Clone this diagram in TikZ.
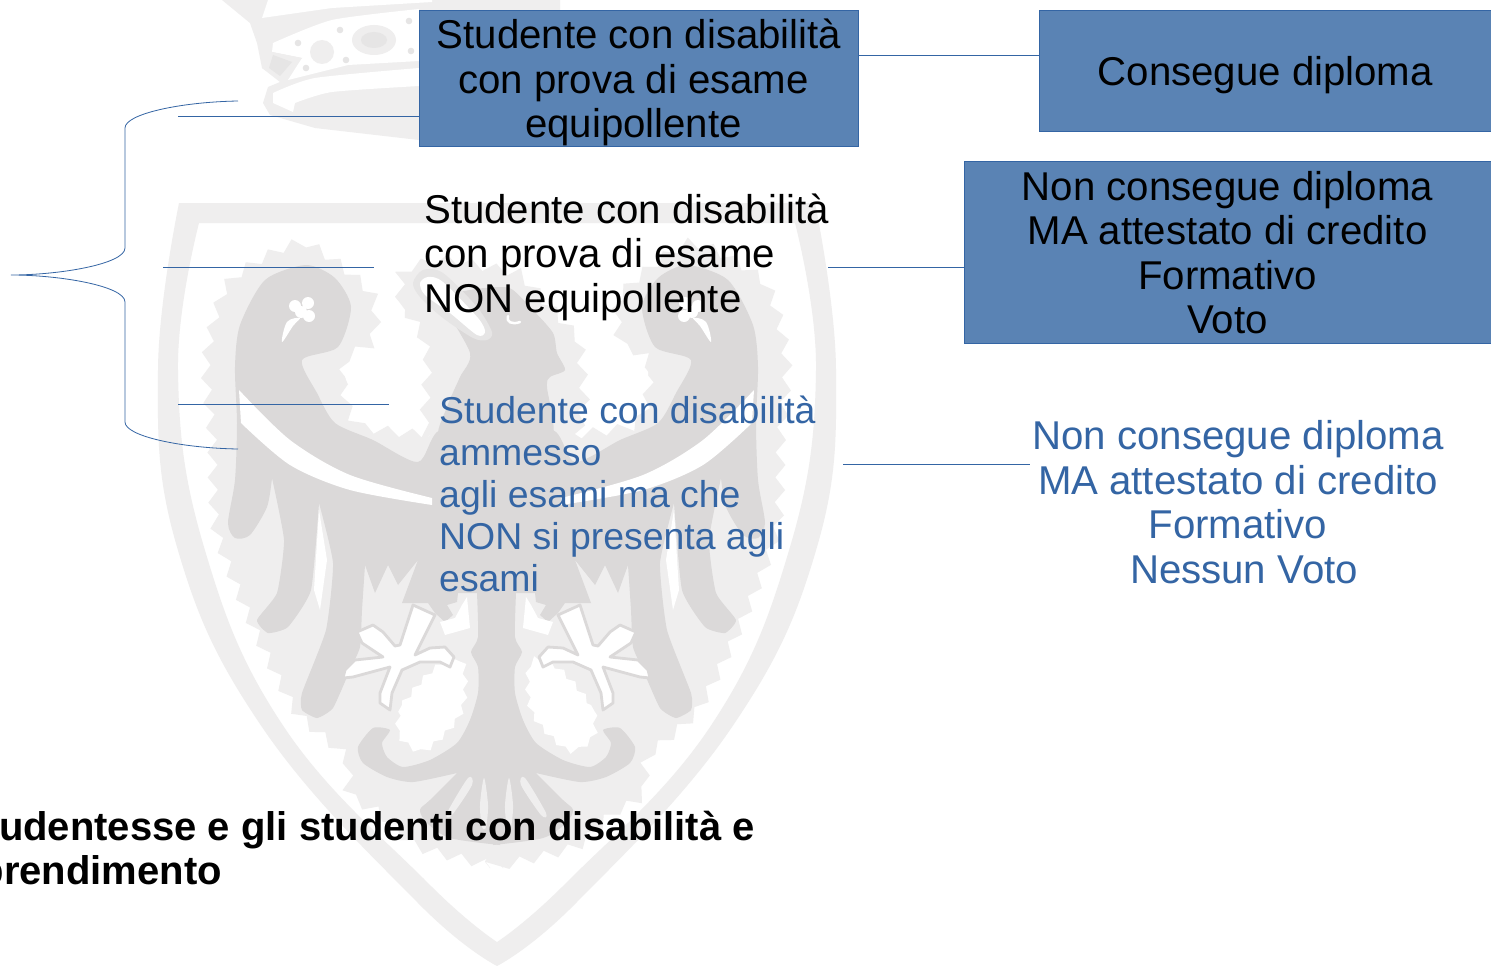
\documentclass[tikz,border=0pt]{standalone}
\usepackage{fontspec}
\setmainfont{Liberation Sans}
\usetikzlibrary{decorations.pathmorphing}
\definecolor{wmlight}{HTML}{EFEEEE}
\definecolor{wmdark}{HTML}{DBD9D9}
\definecolor{wmmid}{HTML}{E6E5E5}
\definecolor{boxfill}{HTML}{5A83B4}
\definecolor{linkblue}{HTML}{3465A4}
\tikzset{
  bigtext/.style={inner sep=0pt,font=\fontsize{40.2}{44.5}\selectfont},
  bluetext/.style={inner sep=0pt,text=linkblue,font=\fontsize{37.4}{42}\selectfont},
  boldtext/.style={inner sep=0pt,font=\fontsize{40}{44}\selectfont\bfseries,anchor=base east},
  bluebox/.style={draw=linkblue,line width=0.8pt,fill=boxfill,inner sep=0pt,align=center,bigtext},
  link/.style={draw=linkblue,line width=0.8pt},
  serrated/.style={decorate,decoration={zigzag,segment length=25pt,amplitude=5pt}}
}
\newcommand{\halfhalo}{%
  \fill[wmlight,serrated] plot[smooth,tension=0.4] coordinates {(503,868) (418,847) (382,815) (350,795) (345,757) (295,710) (250,620) (216,530) (212,440) (206,360) (228,283) (302,243) (371,293) (373,340) (345,362) (360,425) (503,440)} -- cycle;
  \fill[white] plot[smooth cycle,tension=0.5] coordinates {(345,372) (395,352) (422,368) (428,405) (415,425) (375,420)};
}
\newcommand{\halfbody}{%
  % dark wing, body and tail
  \fill[wmdark] plot[smooth,tension=0.45] coordinates {(500,430) (440,430) (418,462) (373,440) (335,423) (317,393) (302,360) (338,347) (351,307) (335,278) (306,265) (265,280) (240,325) (235,367) (237,423) (235,480) (228,523) (235,538) (250,535) (267,507) (272,478)} -- plot[smooth,tension=0.3] coordinates {(272,478) (284,540) (277,593) (257,620) (268,633) (288,627) (311,590) (319,503)} -- plot[smooth,tension=0.3] coordinates {(319,503) (333,563) (326,630) (302,693) (302,710) (317,718) (333,708) (350,670) (360,647) (362,610) (365,565)} -- (375,593) -- (388,565) -- (398,585) -- (418,560) -- (402,603) -- (428,603) -- (435,613) -- (445,622) -- (453,615) -- (447,605) -- (457,602) -- (458,593) -- (477,593) -- plot[smooth,tension=0.4] coordinates {(477,593) (478,637) (471,652) (478,667) (478,693) (470,720) (457,743) (430,760) (403,767) (387,757) (382,743) (390,730) (373,728) (358,747) (363,763) (387,777) (413,782) (457,773)} -- plot[smooth,tension=0.5] coordinates {(457,773) (430,800) (420,810) (427,823) (450,838) (500,845)} -- cycle;
  % white binding across the wing
  \fill[white] plot[smooth,tension=0.5] coordinates {(239,390) (290,440) (350,475) (432,498)} -- plot[smooth,tension=0.5] coordinates {(432,505) (350,490) (290,465) (241,423)} -- cycle;
  % white patches beside column
  \fill[white] (440,622) -- (455,618) -- (462,605) -- (467,597) -- (470,628) -- (445,635) -- cycle;
  \fill[white,decorate,decoration={zigzag,segment length=16pt,amplitude=2.5pt}] plot[smooth cycle,tension=0.6] coordinates {(398,720) (402,705) (435,668) (462,662) (462,710) (433,745) (417,750) (400,737)};
  % foot
  \draw[wmdark,fill=white,line width=2.8pt,line join=round] (413,605) -- (400,645) -- (395,646) -- (383,632) -- (373,625) -- (357,632) -- (362,643) -- (383,657) -- (355,660) -- (345,670) -- (343,678) -- (353,677) -- (390,667) -- (380,693) -- (380,703) -- (390,710) -- (392,693) -- (402,670) -- (420,662) -- (440,662) -- (450,667) -- (454,657) -- (445,647) -- (430,648) -- (415,655) -- (435,615) -- cycle;
  % tail slits
  \fill[wmlight] plot[smooth cycle,tension=0.5] coordinates {(468,778) (447,813) (452,815) (472,785)};
  \fill[wmlight] plot[smooth cycle,tension=0.5] coordinates {(484,778) (480,805) (482,827) (486,827) (488,805)};
  % feather slit
  \fill[white] (319,510) -- (327,560) -- (320,610) -- (314,590) -- cycle;
  % clover and tongue of the wing head
  \fill[white] (295,306) circle (6pt) (308,303) circle (6pt) (309,316) circle (6pt) (301,312) circle (6pt);
  \fill[white] plot[smooth cycle,tension=0.6] coordinates {(300,318) (287,322) (282,342) (293,326)};
}
\begin{document}
\begin{tikzpicture}[x=1pt,y=-1pt]
\useasboundingbox (0,0) rectangle (1491,966);
\fill[white] (0,0) rectangle (1491,966);
% shield
\fill[wmlight,even odd rule]
  plot[smooth,tension=0.7] coordinates {(179,203) (158,370) (177,547) (262,727) (418,903) (497,966)} -- plot[smooth,tension=0.7] coordinates {(497,966) (576,903) (732,727) (817,547) (836,370) (815,203)} -- cycle
  plot[smooth,tension=0.7] coordinates {(199,223) (178,370) (204,547) (284,727) (427,882) (497,942)} -- plot[smooth,tension=0.7] coordinates {(497,942) (567,882) (710,727) (790,547) (816,370) (795,223)} -- cycle;
% crown
\fill[wmlight] (222,0) -- (250,23) -- (257,43) -- (262,68) -- (280,82) -- (268,87) -- (263,103) -- (270,115) -- (315,128) -- (419,140) -- (560,140) -- (560,0) -- cycle;
\fill[white] (268,0) -- (262,18) -- (332,8) -- (432,2) -- (432,0) -- cycle;
\fill[white] plot[smooth,tension=0.4] coordinates {(273,43) (332,20) (419,9)} -- (419,61) -- (348,65) -- (288,80) -- (302,58) -- (272,52) -- cycle;
\fill[white] plot[smooth,tension=0.4] coordinates {(273,93) (315,78) (419,68)} -- (419,86) -- plot[smooth,tension=0.4] coordinates {(419,86) (332,92) (295,103)} -- (293,112) -- (273,103) -- cycle;
\fill[wmlight] (272,52) -- (302,58) -- (283,80) -- (262,68) -- cycle;
\fill[wmmid] (273,55) -- (292,62) -- (280,76) -- (269,68) -- cycle;
\fill[wmlight] (322,52) circle (12pt);
\fill[wmlight] (374,40) ellipse (22pt and 15pt);
\fill[wmmid] (374,40) ellipse (13pt and 8pt);
\foreach \p in {(298,43),(340,30),(346,60),(306,68),(409,21),(411,51)} \fill[wmmid] \p circle (3.3pt);
% eagle
\halfhalo
\begin{scope}[xshift=993pt,xscale=-1]
\halfhalo
\end{scope}
\fill[wmlight,serrated] (400,303) -- (400,270) -- (440,258) -- (520,273) -- (547,303) -- (580,340) -- (585,400) -- (577,440) -- (423,440) -- (428,357) -- (420,330) -- cycle;
\halfbody
\begin{scope}[xshift=993pt,xscale=-1]
\halfbody
\end{scope}
% head
\fill[wmdark] plot[smooth cycle,tension=0.45] coordinates {(443,300) (470,290) (500,287) (513,290) (533,310) (553,333) (557,353) (565,370) (550,377) (547,387) (552,440) (500,460) (440,440) (447,407) (460,377) (470,353)};
\fill[wmmid] plot[smooth cycle,tension=0.5] coordinates {(413,283) (423,270) (443,273) (477,307) (492,332) (487,340) (473,338) (443,318) (420,297)};
\fill[white] plot[smooth cycle,tension=0.5] coordinates {(420,283) (428,277) (443,282) (478,318) (485,332) (477,335) (450,313) (425,295)};
\draw[white,line width=2.5pt,line cap=round] (508,316) .. controls (506,322) and (512,325) .. (520,322);
% lines
\coordinate (bracetop) at (238,101);
\coordinate (bracebot) at (238,449);
\coordinate (bracetip) at (11,275);
\coordinate (bu1) at (125,128);
\coordinate (bu2) at (125,248);
\coordinate (bl1) at (125,302);
\coordinate (bl2) at (125,422);
\draw[link] (bracetop) .. controls (180,102) and (125,114) .. (bu1) -- (bu2) .. controls (125,264) and (60,275) .. (bracetip) .. controls (60,275) and (125,286) .. (bl1) -- (bl2) .. controls (125,436) and (180,448) .. (bracebot);
% nodes
\node[bluebox,minimum width=439pt,minimum height=135.5pt] (b1) at (639,78.25) {\raisebox{-6pt}[\height][\depth]{\begin{tabular}{@{}c@{}}Studente con disabilità\\con prova di esame\hspace*{11pt}\\equipollente\hspace*{11pt}\end{tabular}}};
\node[bluebox,minimum width=451.5pt,minimum height=120.5pt] (b2) at (1265.25,70.75) {\raisebox{-4pt}[\height][\depth]{Consegue diploma}};
\node[bluebox,minimum width=527pt,minimum height=181.5pt] (b3) at (1227.5,252.25) {\raisebox{-6pt}[\height][\depth]{\begin{tabular}{@{}c@{}}Non consegue diploma\\MA attestato di credito\\Formativo\\Voto\end{tabular}}};
\node[bigtext,align=left,anchor=west] (t2) at (424,257) {Studente con disabilità\\con prova di esame\\NON equipollente};
\node[bluetext,align=left,anchor=west] (t3) at (439,493.5) {Studente con disabilità\\ammesso\\agli esami ma che\\NON si presenta agli\\esami};
\node[bigtext,text=linkblue,align=center] (t4) at (1238,502) {Non consegue diploma\\MA attestato di credito\\Formativo\\\hspace*{12pt}Nessun Voto};
\node[boldtext] (bold1) at (755,840) {studentesse e gli studenti con disabilità e};
\node[boldtext] (bold2) at (222,884) {apprendimento};
% connector ends
\coordinate (e1) at (178,116);
\coordinate (e2) at (1000,55);
\coordinate (e3a) at (163,267);
\coordinate (e3b) at (374,267);
\coordinate (e4) at (828,267);
\coordinate (e5a) at (178,404);
\coordinate (e5b) at (389,404);
\coordinate (e6a) at (843,464);
\coordinate (e6b) at (1030,464);
\draw[link] (e1) -- (b1.west |- e1);
\draw[link] (b1.east |- e2) -- (b2.west |- e2);
\draw[link] (e3a) -- (e3b);
\draw[link] (e4) -- (b3.west |- e4);
\draw[link] (e5a) -- (e5b);
\draw[link] (e6a) -- (e6b);
\end{tikzpicture}
\end{document}
